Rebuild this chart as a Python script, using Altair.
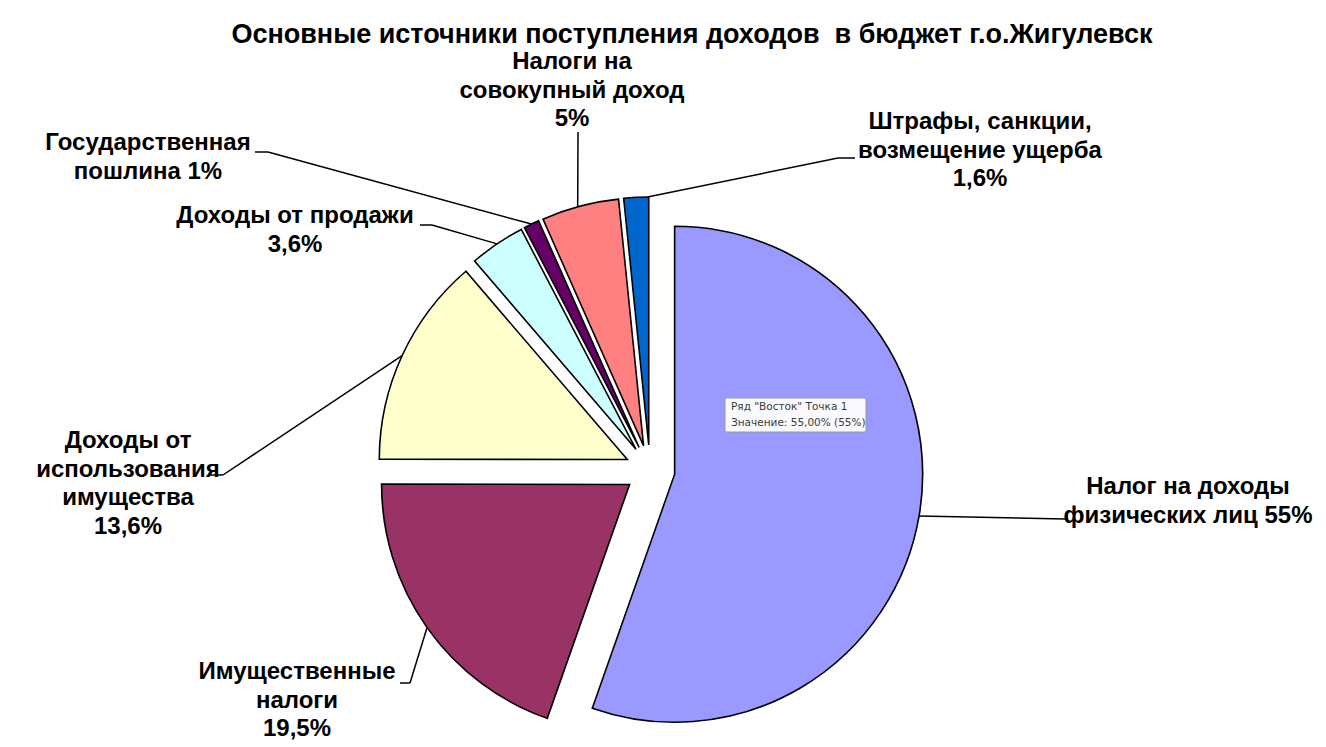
import math
import altair as alt
import pandas as pd

# ---------------- data ----------------
categories = [
    "Налог на доходы физических лиц",
    "Имущественные налоги",
    "Доходы от использования имущества",
    "Доходы от продажи",
    "Государственная пошлина",
    "Налоги на совокупный доход",
    "Штрафы, санкции, возмещение ущерба",
]
values = [55, 19.5, 13.6, 3.6, 1, 5, 1.6]
label_texts = [
    "Налог на доходы\nфизических лиц 55%",
    "Имущественные\nналоги\n19,5%",
    "Доходы от\nиспользования\nимущества\n13,6%",
    "Доходы от продажи\n3,6%",
    "Государственная\nпошлина 1%",
    "Налоги на\nсовокупный доход\n5%",
    "Штрафы, санкции,\nвозмещение ущерба\n1,6%",
]
title_text = "Основные источники поступления доходов\u00a0 в бюджет г.о.Жигулевск"
tooltip_lines = ['Ряд "Восток" Точка 1', "Значение: 55,00% (55%)"]

# ---------------- style / layout ----------------
colors = ["#9999FF", "#993366", "#FFFFCC", "#CCFFFF", "#660066", "#FF8080", "#0066CC"]
W, H = 1326, 747
CX, CY = 650, 470       # pie centre
R = 248                 # pie radius
EXPLODE = 25            # explosion distance
FONT = "Liberation Sans"
# label blocks: centre x, first-line y
label_x = [1188, 297, 128, 295, 148, 572, 980]
label_y = [487, 672, 441, 216, 143, 62, 122]
# leader lines: elbow point and text-side point, anchor position inside slice (0..1)
elbow_x = [1065, 410, 223, 432, 268, 578, 838]
elbow_y = [519, 683, 475, 225, 152, 132, 158]
end_x = [1065, 400, 210, 420, 255, 578, 855]
end_y = [519, 683, 475, 225, 152, 132, 158]
anchor_frac = [0.5, 0.5, 0.5, 0.5, 0.5, 0.47, 0.95]

df = pd.DataFrame({
    "cat": categories,
    "value": values,
    "order": list(range(len(values))),
    "label": label_texts,
    "lx": label_x, "ly": label_y,
    "ex": elbow_x, "ey": elbow_y,
    "tx": end_x, "ty": end_y,
    "af": anchor_frac,
})

xs = alt.Scale(domain=[0, W], range=[0, W], zero=False, nice=False)
ys = alt.Scale(domain=[0, H], range=[0, H], zero=False, nice=False)

base = alt.Chart(df).transform_window(
    cum="sum(value)", sort=[alt.SortField("order")], frame=[None, 0]
).transform_joinaggregate(
    total="sum(value)"
).transform_calculate(
    f0="(datum.cum - datum.value) / datum.total",
    f1="datum.cum / datum.total",
).transform_calculate(
    mid="(datum.f0 + datum.f1) * PI",
    anc="(datum.f0 + datum.af * (datum.f1 - datum.f0)) * 2 * PI",
).transform_calculate(
    px=f"{CX} + {EXPLODE} * sin(datum.mid)",
    py=f"{CY} - {EXPLODE} * cos(datum.mid)",
).transform_calculate(
    ax=f"datum.px + {R} * sin(datum.anc)",
    ay=f"datum.py - {R} * cos(datum.anc)",
)

arcs = base.mark_arc(outerRadius=R, stroke="black", strokeWidth=1.6).encode(
    theta=alt.Theta("f0:Q", scale=alt.Scale(domain=[0, 1], range=[0, 2 * math.pi]), stack=None),
    theta2="f1:Q",
    color=alt.Color("cat:N", scale=alt.Scale(domain=categories, range=colors), legend=None),
    x=alt.X("px:Q", scale=xs, axis=None),
    y=alt.Y("py:Q", scale=ys, axis=None),
)

lead1 = base.mark_rule(color="black", strokeWidth=1.5).encode(
    x=alt.X("ax:Q", scale=xs, axis=None), y=alt.Y("ay:Q", scale=ys, axis=None),
    x2="ex:Q", y2="ey:Q",
)
lead2 = base.mark_rule(color="black", strokeWidth=1.5).encode(
    x=alt.X("ex:Q", scale=xs, axis=None), y=alt.Y("ey:Q", scale=ys, axis=None),
    x2="tx:Q", y2="ty:Q",
)

labels = base.mark_text(
    font=FONT, fontSize=24, fontWeight="bold", color="black",
    align="center", baseline="middle", lineBreak="\n", lineHeight=28.5,
).encode(
    x=alt.X("lx:Q", scale=xs, axis=None), y=alt.Y("ly:Q", scale=ys, axis=None),
    text="label:N",
)

title = alt.Chart(pd.DataFrame({"t": [title_text]})).mark_text(
    font=FONT, fontSize=27, fontWeight="bold", color="black", align="center", baseline="middle",
).encode(x=alt.value(692), y=alt.value(35), text="t:N")

tip_box = alt.Chart(pd.DataFrame({"a": [0]})).mark_rect(
    fill="#FAFAFC", stroke="#9A9A9A", strokeWidth=1, cornerRadius=2,
).encode(x=alt.value(725), x2=alt.value(866), y=alt.value(398), y2=alt.value(432))

tip_text = alt.Chart(pd.DataFrame({"t": ["\n".join(tooltip_lines)]})).mark_text(
    font="DejaVu Sans", fontSize=10.5, color="#3A3A3A", align="left", baseline="middle",
    lineBreak="\n", lineHeight=16,
).encode(x=alt.value(731), y=alt.value(407), text="t:N")

chart = alt.layer(arcs, lead1, lead2, labels, title, tip_box, tip_text).properties(
    width=W, height=H, padding=0, autosize=alt.AutoSizeParams(type="none"),
    background="white",
).configure_view(stroke=None)

chart.save("out.html", embed_options={"renderer": "svg", "actions": False})
